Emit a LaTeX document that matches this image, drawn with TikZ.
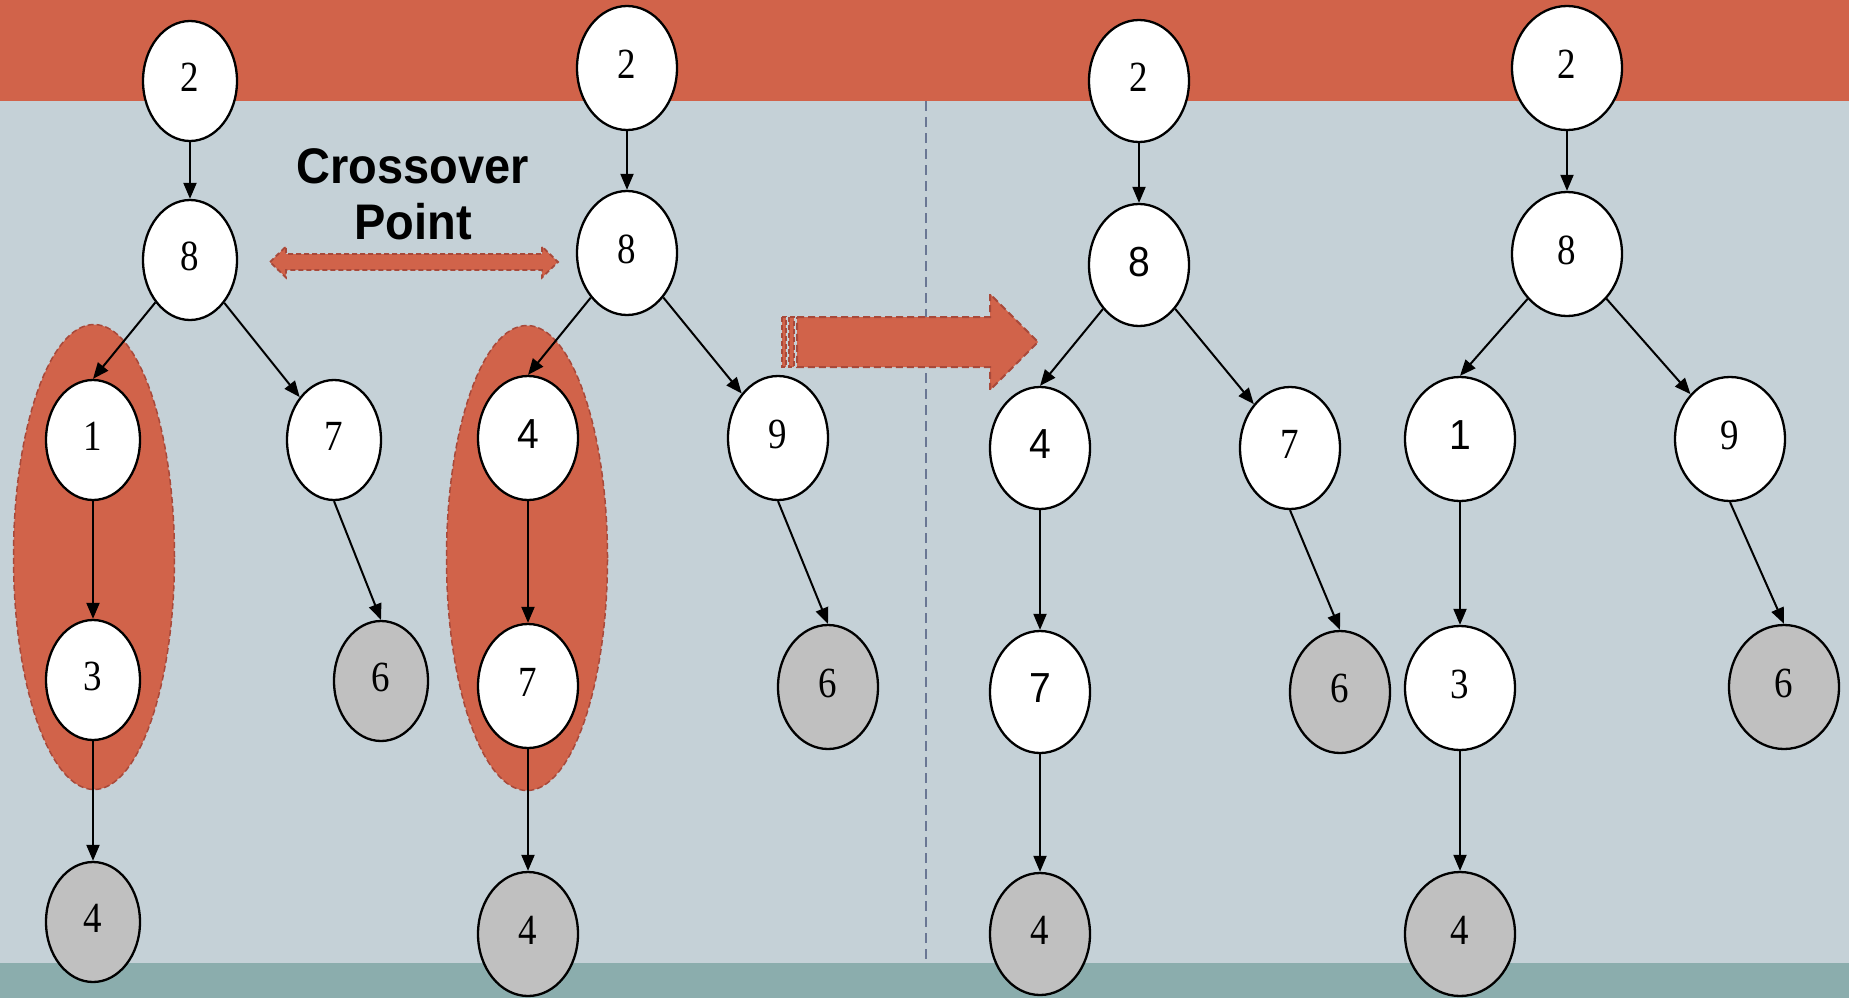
\documentclass[tikz,border=0pt]{standalone}
\usepackage{fontspec}
\setmainfont{Liberation Serif}
\newfontfamily\hsans{Liberation Sans}
\newfontfamily\nserif[FakeStretch=0.86]{Liberation Serif}
\newfontfamily\nsans[FakeStretch=0.93]{Liberation Sans}
\usetikzlibrary{shapes.geometric,arrows.meta}
\definecolor{bandred}{HTML}{D1634A}
\definecolor{bgblue}{HTML}{C5D1D7}
\definecolor{bandteal}{HTML}{8BADAD}
\definecolor{nodegrey}{HTML}{C0C0C0}
\definecolor{darkred}{HTML}{A8493A}
\definecolor{sepcol}{HTML}{6A7794}
\begin{document}
\begin{tikzpicture}[x=1pt,y=-1pt,
  nd/.style={ellipse,draw=black,line width=2.3pt,fill=white,inner sep=0pt,
    font=\nserif\fontsize{43}{43}\selectfont,text depth=7pt},
  sz1/.style={minimum width=94pt,minimum height=120pt},
  sz2/.style={minimum width=100pt,minimum height=124pt},
  sz3/.style={minimum width=100pt,minimum height=122pt},
  sz4/.style={minimum width=110pt,minimum height=124pt},
  leaf/.style={fill=nodegrey},
  sansd/.style={font=\nsans\fontsize{42}{42}\selectfont},
  link/.style={line width=2pt,-{Triangle[length=16pt,width=13pt]}},
  hilite/.style={ellipse,fill=bandred,draw=darkred,line width=1.5pt,dash pattern=on 6pt off 3pt,inner sep=0pt},
  redarrow/.style={fill=bandred,draw=darkred,line width=2pt,dash pattern=on 7pt off 4pt},
  crosstext/.style={font=\hsans\bfseries\fontsize{50}{56}\selectfont,xscale=0.94,anchor=base}
]
\useasboundingbox (0,0) rectangle (1849,998);
% backgrounds
\fill[bgblue] (0,0) rectangle (1849,998);
\fill[bandred] (0,0) rectangle (1849,101);
\fill[bandteal] (0,963) rectangle (1849,998);
% separator
\coordinate (sepTop) at (926,101);
\coordinate (sepBot) at (926,963);
\draw[sepcol,line width=2pt,dash pattern=on 10pt off 6pt] (sepTop) -- (sepBot);

% highlight ellipses
\node[hilite,minimum width=161pt,minimum height=465pt] (hl1) at (94,557) {};
\node[hilite,minimum width=161pt,minimum height=465pt] (hl2) at (527,558) {};

% crossover text and double arrow
\node[crosstext] (cross1) at (413,183) {Crossover};
\node[crosstext] (cross2) at (413,239) {Point};
\draw[redarrow,line width=1.8pt,dash pattern=on 5pt off 3pt]
  (270,262) -- (286,246.5) -- (286,254) -- (542,254) -- (542,246.5) -- (558,262)
  -- (542,277.5) -- (542,270) -- (286,270) -- (286,277.5) -- cycle;

% big arrow
\draw[redarrow,line width=1.5pt,dash pattern=on 5pt off 3pt] (782,317) rectangle (786,367);
\draw[redarrow,line width=1.5pt,dash pattern=on 5pt off 3pt] (789,317) rectangle (794,367);
\draw[redarrow] (797,317) -- (990,317) -- (990,294) -- (1038,342) -- (990,390)
  -- (990,367) -- (797,367) -- cycle;

% tree 1
\node[nd,sz1] (t1a) at (190,81) {2};
\node[nd,sz1] (t1b) at (190,260) {8};
\node[nd,sz1] (t1c) at (93,440) {1};
\node[nd,sz1] (t1d) at (334,440) {7};
\node[nd,sz1] (t1e) at (93,680) {3};
\node[nd,sz1,leaf] (t1f) at (381,681) {6};
\node[nd,sz1,leaf] (t1g) at (93,922) {4};
\draw[link] (t1a.south) -- (t1b.north);
\draw[link] (t1b) -- (t1c.north);
\draw[link] (t1b) -- (t1d);
\draw[link] (t1c.south) -- (t1e.north);
\draw[link] (t1e.south) -- (t1g.north);
\draw[link] (t1d.south) -- (t1f.north);

% tree 2
\node[nd,sz2] (t2a) at (627,68) {2};
\node[nd,sz2] (t2b) at (627,253) {8};
\node[nd,sz2,sansd] (t2c) at (528,438) {4};
\node[nd,sz2] (t2d) at (778,438) {9};
\node[nd,sz2] (t2e) at (528,686) {7};
\node[nd,sz2,leaf] (t2f) at (828,687) {6};
\node[nd,sz2,leaf] (t2g) at (528,934) {4};
\draw[link] (t2a.south) -- (t2b.north);
\draw[link] (t2b) -- (t2c.north);
\draw[link] (t2b) -- (t2d);
\draw[link] (t2c.south) -- (t2e.north);
\draw[link] (t2e.south) -- (t2g.north);
\draw[link] (t2d.south) -- (t2f.north);

% tree 3
\node[nd,sz3] (t3a) at (1139,81) {2};
\node[nd,sz3,sansd] (t3b) at (1139,265) {8};
\node[nd,sz3,sansd] (t3c) at (1040,448) {4};
\node[nd,sz3] (t3d) at (1290,448) {7};
\node[nd,sz3,sansd] (t3e) at (1040,692) {7};
\node[nd,sz3,leaf] (t3f) at (1340,692) {6};
\node[nd,sz3,leaf] (t3g) at (1040,934) {4};
\draw[link] (t3a.south) -- (t3b.north);
\draw[link] (t3b) -- (t3c.north);
\draw[link] (t3b) -- (t3d);
\draw[link] (t3c.south) -- (t3e.north);
\draw[link] (t3e.south) -- (t3g.north);
\draw[link] (t3d.south) -- (t3f.north);

% tree 4
\node[nd,sz4] (t4a) at (1567,68) {2};
\node[nd,sz4] (t4b) at (1567,254) {8};
\node[nd,sz4,sansd] (t4c) at (1460,439) {1};
\node[nd,sz4] (t4d) at (1730,439) {9};
\node[nd,sz4] (t4e) at (1460,688) {3};
\node[nd,sz4,leaf] (t4f) at (1784,687) {6};
\node[nd,sz4,leaf] (t4g) at (1460,934) {4};
\draw[link] (t4a.south) -- (t4b.north);
\draw[link] (t4b) -- (t4c.north);
\draw[link] (t4b) -- (t4d);
\draw[link] (t4c.south) -- (t4e.north);
\draw[link] (t4e.south) -- (t4g.north);
\draw[link] (t4d.south) -- (t4f.north);
\end{tikzpicture}
\end{document}
